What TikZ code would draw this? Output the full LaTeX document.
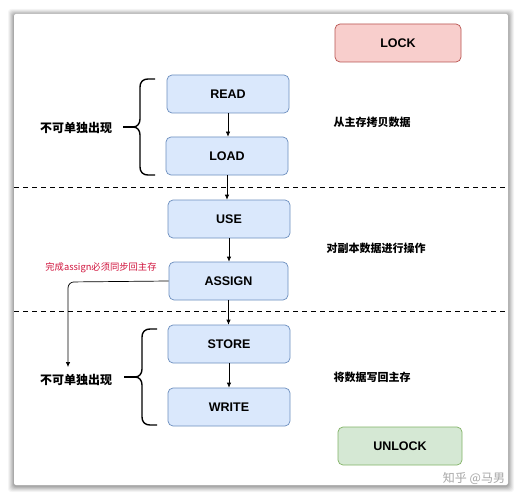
\documentclass[tikz,border=0pt]{standalone}
\usepackage{fontspec}
\setmainfont{Liberation Sans}
\newfontfamily\cjk{Noto Sans CJK SC}
\usetikzlibrary{arrows.meta}
\definecolor{bluefill}{HTML}{DAE8FC}
\definecolor{blueline}{HTML}{6C8EBF}
\definecolor{redfill}{HTML}{F8CECC}
\definecolor{redline}{HTML}{B85450}
\definecolor{greenfill}{HTML}{D5E8D4}
\definecolor{greenline}{HTML}{82B366}
\definecolor{notered}{HTML}{D0103A}
\tikzset{
  stepbox/.style={draw=blueline, fill=bluefill, rounded corners=5pt, minimum width=122pt, minimum height=38pt, font=\bfseries\fontsize{12.5}{14}\selectfont, line width=0.7pt},
  lockbox/.style={draw=redline, fill=redfill, rounded corners=5pt, minimum width=126pt, minimum height=38pt, font=\bfseries\fontsize{12.5}{14}\selectfont, line width=0.7pt},
  unlockbox/.style={draw=greenline, fill=greenfill, rounded corners=5pt, minimum width=124pt, minimum height=38pt, font=\bfseries\fontsize{12.5}{14}\selectfont, line width=0.7pt},
  note/.style={font=\cjk\bfseries\fontsize{11}{13}\selectfont},
  bnote/.style={font=\cjk\bfseries\fontsize{12}{14}\selectfont},
  arr/.style={-{Latex[length=5pt,width=4.5pt]}, line width=0.7pt},
  brace/.style={line width=1.4pt},
}
\begin{document}
\begin{tikzpicture}[x=1pt,y=-1pt]
\useasboundingbox (0,0) rectangle (530,500);
\fill[white] (0,0) rectangle (530,500);
% panel shadow
\foreach \d/\o in {6/0.04,5/0.05,4/0.06,3/0.07,2/0.08,1/0.09}{
  \fill[black,opacity=\o,rounded corners=3pt] (14-\d,14-\d+1) rectangle (508+\d,486+\d);
}
\fill[white,rounded corners=2pt] (14,14) rectangle (508,485);

% dashed separators
\draw[line width=1pt, dash pattern=on 5pt off 4pt] (14,187) -- (506,187);
\draw[line width=1pt, dash pattern=on 5pt off 4pt] (14,311) -- (506,311);

% boxes
\node[lockbox] (lock) at (398,43) {LOCK};
\node[stepbox] (read) at (228,94) {READ};
\node[stepbox] (load) at (227,156) {LOAD};
\node[stepbox] (use) at (229,219) {USE};
\node[stepbox, minimum width=119pt] (assign) at (228.5,281) {ASSIGN};
\node[stepbox] (store) at (229,344) {STORE};
\node[stepbox] (write) at (229,407) {WRITE};
\node[unlockbox] (unlock) at (400,446) {UNLOCK};

% arrows
\draw[arr] (read) -- (read |- load.north);
\draw[arr] (load) -- (load |- use.north);
\draw[arr] (use) -- (use |- assign.north);
\draw[arr] (assign) -- (assign |- store.north);
\draw[arr] (store) -- (store |- write.north);

% side texts
\node[note] (t1) at (372,122) {从主存拷贝数据};
\node[note] (t2) at (376,248) {对副本数据进行操作};
\node[note] (t3) at (372,377) {将数据写回主存};

% brace labels
\node[bnote] (b1) at (76,128) {不可单独出现};
\node[bnote] (b2) at (76,380) {不可单独出现};

% top brace
\draw[brace] (155,79) -- (148,79) .. controls (143,79) and (140,82) .. (140,87) -- (140,119) .. controls (140,124) and (137,127) .. (133,127) .. controls (137,127) and (140,130) .. (140,135) -- (140,167) .. controls (140,172) and (143,175) .. (148,175) -- (155,175);
\coordinate (b1tip) at (133,127);
\coordinate (b1s) at (123,127);
\draw[brace] (b1s) -- (b1tip);

% bottom brace
\draw[brace] (157,329) -- (150,329) .. controls (145,329) and (142,332) .. (142,337) -- (142,369) .. controls (142,374) and (139,377) .. (135,377) .. controls (139,377) and (142,380) .. (142,385) -- (142,417) .. controls (142,422) and (145,425) .. (150,425) -- (157,425);
\coordinate (b2tip) at (135,377);
\coordinate (b2s) at (124,377);
\draw[brace] (b2s) -- (b2tip);

% red note
\node[font=\cjk\fontsize{9.3}{11}\selectfont, text=notered] (rn) at (101,268) {完成assign必须同步回主存};

% assign return connector
\coordinate (bend) at (68,282);
\draw[arr, rounded corners=6pt] (assign.west) -- (bend) -- (68,367);

% watermark
\node[font=\cjk\fontsize{12}{14}\selectfont, text=black!35] (wm) at (474,478) {知乎 @马男};
\end{tikzpicture}
\end{document}
